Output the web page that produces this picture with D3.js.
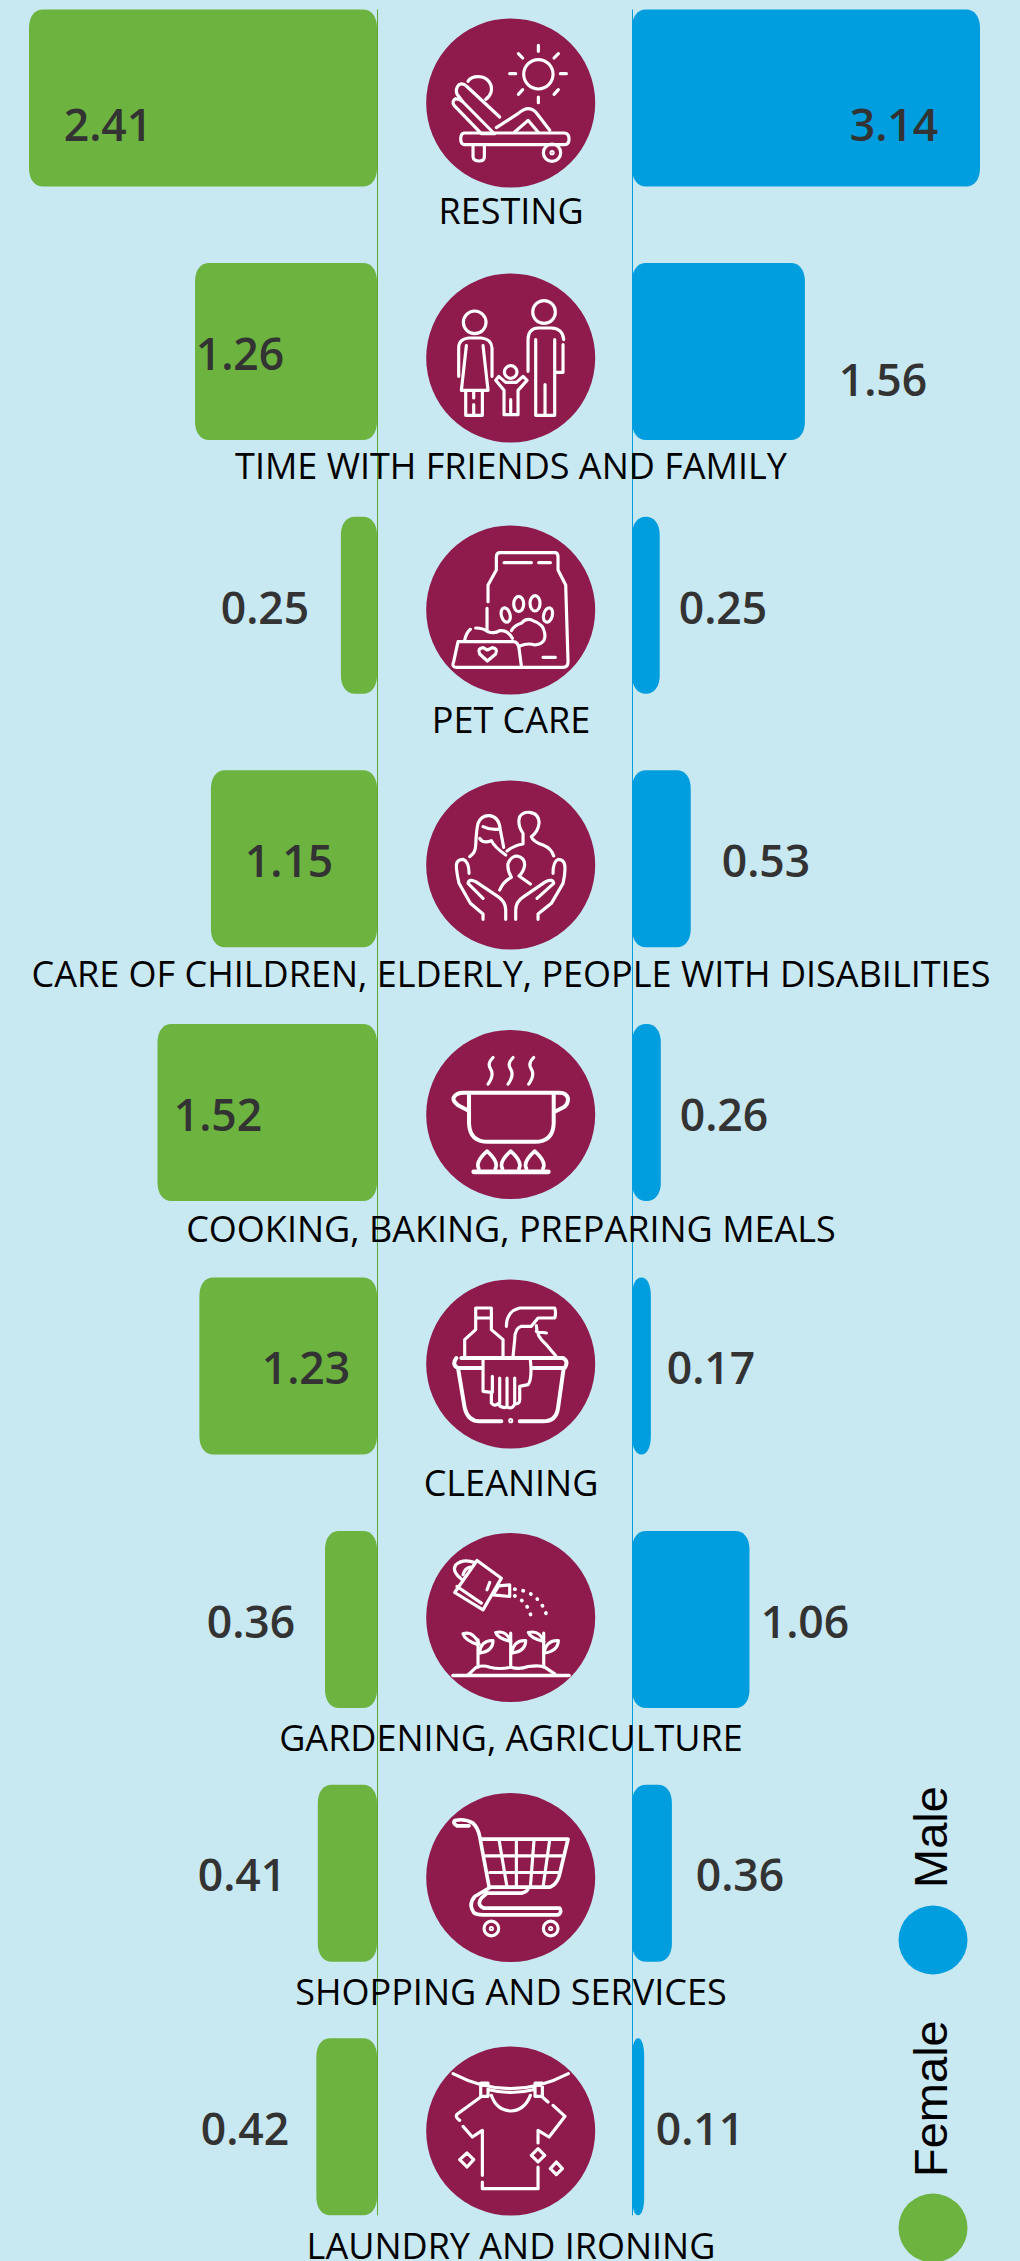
<!DOCTYPE html>
<html><head><meta charset="utf-8">
<script src="https://cdn.jsdelivr.net/npm/d3@7/dist/d3.min.js"></script>
<style>html,body{margin:0;padding:0;background:#c8e8f2;overflow:hidden}svg{display:block}</style>
</head><body><svg id="c" width="1020" height="2261"></svg>
<script>
const categories=["RESTING","TIME WITH FRIENDS AND FAMILY","PET CARE","CARE OF CHILDREN, ELDERLY, PEOPLE WITH DISABILITIES","COOKING, BAKING, PREPARING MEALS","CLEANING","GARDENING, AGRICULTURE","SHOPPING AND SERVICES","LAUNDRY AND IRONING"];
const femaleValues=[2.41,1.26,0.25,1.15,1.52,1.23,0.36,0.41,0.42];
const maleValues=[3.14,1.56,0.25,0.53,0.26,0.17,1.06,0.36,0.11];
const seriesNames=["Female","Male"];
const seriesColors=["#6cb33f","#009ddf"];
// label anchor points as placed in the original layout
const femaleLabelX=[108,240,265,289,218,306,251,242,245];
const maleLabelX=[894,883,723,766,724,711,805,740,700];
const femaleLabelY=[125,354,608,861,1115,1368,1622,1875,2129];
const maleLabelY=[125,380,608,861,1115,1368,1622,1875,2129];
const circleY=[103,358,610,865,1114.5,1364,1617.5,1877.5,2131];
const nameY=[211,466,720,974,1229,1483,1738,1992,2246];

const icons=[
 {cy:308,shapes:`<circle cx="416" cy="222" r="44"/><path d="M416 135V153M416 290V307M330 220H348M482 220H500M356 160L369 173M476 160L463 173M356 282L369 268M476 268L463 282"/>
 <path d="M205 243C215 225 255 222 270 247C282 268 272 288 258 297"/>
 <path d="M285 400H245L163 315Q155 303 168 295L180 298L190 305L282 398M190 305L172 282Q166 265 178 253Q190 247 200 257L300 350"/>
 <path d="M193 398H495Q508 400 508 416Q508 433 495 433H193Q183 430 183 416Q183 400 193 398ZM220 435V470Q222 482 238 482Q254 482 254 470V435"/><circle cx="457" cy="457" r="26"/><circle cx="457" cy="457" r="3"/>
 <path d="M290 382L355 340Q385 312 408 335L450 390M345 395L385 360L415 395"/>`},
 {cy:295,shapes:`<circle cx="225" cy="188" r="34"/><path d="M177 350V265Q177 238 207 235H245Q275 238 277 265V350M200 258L185 392H265L250 258M198 392V467H222V435M248 392V467H222M222 395V415"/>
 <circle cx="433" cy="157" r="34"/><path d="M385 335V240Q385 207 415 205H455Q490 207 492 240M490 255V338H467M408 240V467H465V240M436 375V467"/>
 <circle cx="333" cy="337" r="19"/><path d="M313 392L288 362L297 350L318 368H350L370 350L382 362L355 392V465H313V392M333 420V465"/>`},
 {cy:1050,shapes:`<path d="M265 1025V975L290 930V890Q290 878 302 878H465Q475 878 475 890V930L498 975L505 1205Q505 1222 490 1222H170Q155 1222 162 1205L175 1145H340Q355 1145 358 1165L365 1218M262 1045V1112M313 908H395M417 908H452M430 1192H467"/>
 <ellipse cx="318" cy="1065" rx="13" ry="22" transform="rotate(-15 318 1065)"/><ellipse cx="357" cy="1032" rx="15" ry="23"/><ellipse cx="406" cy="1030" rx="15" ry="23"/><ellipse cx="445" cy="1065" rx="13" ry="22" transform="rotate(15 445 1065)"/>
 <path d="M335 1112Q345 1095 365 1090Q380 1072 400 1082Q432 1092 435 1120Q440 1152 405 1155Q385 1148 360 1158"/>
 <path d="M195 1140Q200 1118 212 1108M228 1104Q250 1104 265 1115Q285 1122 300 1112Q325 1110 338 1135"/>
 <path d="M263 1203L240 1182Q232 1165 250 1163L263 1170L278 1163Q295 1165 288 1182Z"/>`},
 {cy:285,shapes:`<path d="M210 260Q228 248 228 225Q230 180 235 160Q245 135 270 137Q298 140 302 180L312 232M250 170Q270 180 295 178M240 205Q250 222 275 212Q285 232 318 255"/>
 <path d="M322 243Q345 225 370 222V190Q352 165 360 140Q370 125 390 127Q418 130 418 160Q415 185 395 200Q400 215 430 225Q455 235 462 258"/>
 <path d="M300 360Q310 335 335 322Q322 300 325 280Q335 258 352 258Q375 262 375 285Q372 305 358 318L392 342"/>
 <path d="M250 448V432L212 400L178 340Q170 305 170 285Q172 268 190 268Q208 275 208 310M318 448V420Q318 395 295 380L228 335Q208 325 205 340L250 385M348 448V420Q348 395 372 380L438 335Q460 325 462 340L412 385M415 448V432L455 400L490 340Q498 305 495 285Q492 268 475 268Q460 275 460 310"/>`},
 {cy:1033,shapes:`<path d="M280 862Q262 880 272 895Q285 915 265 942M340 862Q322 880 332 895Q345 915 325 942M402 862Q384 880 394 895Q407 915 387 942"/>
 <path stroke-width="12" d="M208 970V1060Q210 1115 265 1115H405Q460 1115 462 1060V970M207 1022L175 1005Q158 992 162 982Q170 968 190 968H480Q500 968 505 985Q505 1005 490 1012L462 1026"/>
 <path stroke-width="11" d="M237 1195Q226 1175 262 1143Q298 1175 287 1195M308 1195Q297 1175 333 1143Q369 1175 358 1195M380 1195Q369 1175 405 1143Q441 1175 430 1195"/><path stroke-width="14" d="M222 1205H446"/>`},
 {cy:283,shapes:`<path d="M195 262V210L228 180V115H275V180L310 210V262M228 145H275M320 170Q320 125 360 115H465Q470 130 465 145H415L395 170H365Q345 175 345 210L340 260M410 168Q410 200 440 225L468 258M410 185L440 190"/>
 <path stroke-width="12" d="M185 265H490Q508 275 495 295H400M245 295H175Q155 285 170 265M175 295L195 415Q205 455 240 455H305M360 455H430Q470 455 475 415L492 295"/>
 <circle cx="333" cy="453" r="3"/>
 <path d="M250 270V365L275 368V400Q285 412 295 402Q305 418 322 412Q340 420 345 402Q362 405 360 385V350L385 345Q398 330 392 270M278 320V368M300 325V402M322 325V412M345 325V402"/>`},
 {cy:1043,shapes:`<path d="M232 872L305 925L250 1020L165 968ZM172 950L245 1000M270 938L262 960M297 948L280 975L330 980L330 945Z"/>
 <path d="M188 930Q155 905 168 885Q190 865 225 878M190 915Q195 895 212 892"/>
 <path stroke-width="11" stroke-dasharray="1 24" d="M345 958Q420 965 442 1040M345 978Q390 1000 396 1052"/>
 <path stroke-width="11" d="M160 1217H508"/>
 <path d="M205 1215L230 1192Q250 1185 270 1192Q300 1200 333 1192Q360 1200 385 1190Q420 1185 435 1192L465 1212M235 1192V1110M333 1192V1090M432 1192V1090"/>
 <path d="M235 1125Q195 1110 190 1092Q220 1082 238 1122M238 1150Q280 1145 280 1112Q245 1110 238 1150M333 1115Q293 1105 288 1088Q320 1080 333 1115M335 1150Q378 1145 378 1112Q343 1110 335 1150M432 1115Q392 1105 386 1088Q420 1080 432 1115M432 1150Q475 1145 476 1112Q440 1110 432 1150"/>`},
 {cy:293,shapes:`<path stroke-width="11" d="M208 138H172Q158 130 165 122Q195 115 220 130Q235 145 240 170L268 320L275 322H450Q470 315 478 290L505 178H245M268 325L225 350Q205 375 222 398Q230 405 250 405H475Q488 398 480 385H252Q230 375 245 355L262 340H365Q385 335 385 325"/><path d="M258 228H490M270 278H475M298 180L322 322M350 180V322M403 180L392 322M450 180L430 322"/>
 <circle cx="275" cy="446" r="22"/><circle cx="275" cy="446" r="3"/><circle cx="453" cy="446" r="22"/><circle cx="453" cy="446" r="3"/>`},
 {cy:1052,shapes:`<path d="M160 880Q245 925 333 925Q420 925 506 880M243 908H265V948H243ZM406 908H428V948H406ZM268 928Q333 945 400 928M275 945Q290 990 333 992Q375 990 392 945"/>
 <path d="M243 950L172 1002Q165 1010 180 1020M190 1038L218 1070L248 1050V1185M248 1205V1225H415V1160M415 1088V1050L448 1070L496 1008L460 975M428 950L445 965"/>
 <path d="M202 1118L222 1138L202 1160L180 1138ZM415 1105L435 1125L415 1145L395 1125ZM470 1145L488 1165L470 1183L452 1165Z"/>`}
];

const svg=d3.select("#c");
const sharedAxisLeft=377, sharedAxisRight=632, outerLeft=29, outerRight=980;
const xF=d3.scaleLinear().domain([0,d3.max(femaleValues)]).range([sharedAxisLeft,outerLeft]);
const xM=d3.scaleLinear().domain([0,d3.max(maleValues)]).range([sharedAxisRight,outerRight]);
const barH=177;
const yTop=i=>9.5+i*253.6;

svg.append("rect").attr("width",1020).attr("height",2261).attr("fill","#c8e8f2");

function rr(x0,x1,y0,y1,r){const w=x1-x0,rx=Math.min(r,w/2),ry=r+4;return `M${x0+rx} ${y0}H${x1-rx}C${x1-rx*0.4} ${y0} ${x1} ${y0+ry*0.4} ${x1} ${y0+ry}V${y1-ry}C${x1} ${y1-ry*0.4} ${x1-rx*0.4} ${y1} ${x1-rx} ${y1}H${x0+rx}C${x0+rx*0.4} ${y1} ${x0} ${y1-ry*0.4} ${x0} ${y1-ry}V${y0+ry}C${x0} ${y0+ry*0.4} ${x0+rx*0.4} ${y0} ${x0+rx} ${y0}Z`;}

svg.selectAll(".f").data(femaleValues).join("path").attr("class","f").attr("fill",seriesColors[0])
 .attr("d",(d,i)=>rr(xF(d),sharedAxisLeft,yTop(i),yTop(i)+barH,14));
svg.selectAll(".m").data(maleValues).join("path").attr("class","m").attr("fill",seriesColors[1])
 .attr("d",(d,i)=>rr(sharedAxisRight,xM(d),yTop(i),yTop(i)+barH,14));

const lineY=[yTop(0),yTop(categories.length-1)+barH];
svg.append("line").attr("x1",377.5).attr("x2",377.5).attr("y1",lineY[0]).attr("y2",lineY[1]).attr("stroke","#5ea832").attr("stroke-width",1);
svg.append("line").attr("x1",632.5).attr("x2",632.5).attr("y1",lineY[0]).attr("y2",lineY[1]).attr("stroke",seriesColors[1]).attr("stroke-width",1);

const iconG=svg.selectAll(".ic").data(categories).join("g").attr("class","ic").attr("transform",(d,i)=>`translate(510.7,${circleY[i]})`);
iconG.append("circle").attr("r",84.5).attr("fill","#8e1b4c");
iconG.append("g").attr("transform",(d,i)=>`scale(${1/3}) translate(-333,${-icons[i].cy})`)
 .attr("fill","none").attr("stroke","#fff").attr("stroke-width",9.5).attr("stroke-linecap","round").attr("stroke-linejoin","round")
 .html((d,i)=>icons[i].shapes);

const font="'Open Sans'";
// the last category name runs off the bottom edge in the reference, so it stays at its read position
svg.selectAll(".cat").data(categories).join("text").attr("class","cat").text(d=>d)
 .attr("x",511).attr("y",(d,i)=>nameY[i]).attr("dy","0.36em").attr("text-anchor","middle")
 .attr("font-family",font).attr("font-size",36).attr("fill","#000");
const fmt=d3.format(".2f");
svg.selectAll(".fl").data(femaleValues).join("text").attr("class","fl").text(fmt)
 .attr("x",(d,i)=>femaleLabelX[i]).attr("y",(d,i)=>femaleLabelY[i]).attr("dy","0.36em").attr("text-anchor","middle")
 .attr("font-family",font).attr("font-weight",600).attr("font-size",44.5).attr("fill","#333");
svg.selectAll(".ml").data(maleValues).join("text").attr("class","ml").text(fmt)
 .attr("x",(d,i)=>maleLabelX[i]).attr("y",(d,i)=>maleLabelY[i]).attr("dy","0.36em").attr("text-anchor","middle")
 .attr("font-family",font).attr("font-weight",600).attr("font-size",44.5).attr("fill","#333");

const legendCy=[2228,1940], legendStart=[2177,1888];
seriesNames.forEach((s,i)=>{
 svg.append("circle").attr("cx",933).attr("cy",legendCy[i]).attr("r",34.5).attr("fill",seriesColors[i]);
 svg.append("text").text(s).attr("transform",`translate(947,${legendStart[i]}) rotate(-90)`)
  .attr("font-family","'Liberation Sans'").attr("font-size",47).attr("fill","#000");
});
</script></body></html>
